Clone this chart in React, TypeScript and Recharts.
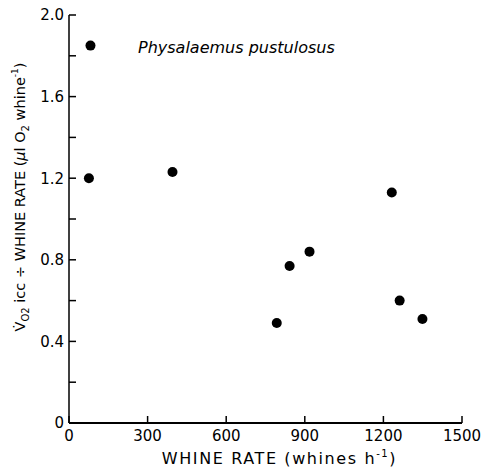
import { Label, Scatter, ScatterChart, XAxis, YAxis } from 'recharts'

// whine rate (whines/h) and VO2 per whine
const whineRate = [82, 76, 395, 842, 918, 793, 1232, 1262, 1349]
const vo2PerWhine = [1.85, 1.2, 1.23, 0.77, 0.84, 0.49, 1.13, 0.6, 0.51]

const xTicks = [0, 300, 600, 900, 1200, 1500]
const yTicks = [0, 0.2, 0.4, 0.6, 0.8, 1.0, 1.2, 1.4, 1.6, 1.8, 2.0]

const species = 'Physalaemus pustulosus'

const data = whineRate.map((x, i) => ({ x, y: vo2PerWhine[i] }))

const FONT = '"DejaVu Sans", sans-serif'
const Y_MARGIN = 5
const X_MARGIN = 6

function YTick(props: any) {
  const { x, y, payload } = props
  const axisX = x + Y_MARGIN
  const v = payload.value as number
  const major = Math.round(v * 10) % 4 === 0
  return (
    <g>
      <line x1={axisX} x2={axisX + 7} y1={y} y2={y} stroke="#000" strokeWidth={1.5} />
      {major && (
        <text x={x} y={y} dy="0.36em" textAnchor="end" fontSize={15} fontFamily={FONT} fill="#000">
          {v === 0 ? '0' : v.toFixed(1)}
        </text>
      )}
    </g>
  )
}

function XTick(props: any) {
  const { x, y, payload } = props
  const axisY = y - X_MARGIN
  return (
    <g>
      <line x1={x} x2={x} y1={axisY} y2={axisY - 7} stroke="#000" strokeWidth={1.5} />
      <text x={x} y={y} dy="0.8em" textAnchor="middle" fontSize={15} fontFamily={FONT} fill="#000">
        {payload.value}
      </text>
    </g>
  )
}

function XTitle({ viewBox }: any) {
  const cx = viewBox.x + viewBox.width / 2 + 14
  return (
    <text x={cx} y={464} textAnchor="middle" fontSize={16} fontFamily={FONT} fill="#000" letterSpacing={1.6}>
      WHINE RATE (whines h
      <tspan fontSize={10} dy={-7}>-1</tspan>
      <tspan dy={7}>)</tspan>
    </text>
  )
}

function YTitle({ viewBox }: any) {
  const cy = viewBox.y + viewBox.height / 2 - 22
  return (
    <text
      transform={`translate(20,${cy}) rotate(-90)`}
      textAnchor="middle"
      dy="0.36em"
      fontSize={14.5}
      fontFamily={FONT}
      fill="#000"
    >
      {'V\u0307'}
      <tspan fontSize={10} dy={4}>O2</tspan>
      <tspan dy={-4}> icc ÷ WHINE RATE (</tspan>
      <tspan fontStyle="italic">μ</tspan>
      <tspan>l O</tspan>
      <tspan fontSize={10} dy={4}>2</tspan>
      <tspan dy={-4}> whine</tspan>
      <tspan fontSize={9} dy={-7}>-1</tspan>
      <tspan dy={7}>)</tspan>
    </text>
  )
}

const Dot = (props: any) => <circle cx={props.cx} cy={props.cy} r={5} fill="#000" />

export default function App() {
  return (
    <div style={{ position: 'absolute', left: 0, top: 0, width: 486, height: 468, background: '#fff' }}>
      <ScatterChart width={486} height={468} margin={{ top: 15, right: 24, bottom: 0, left: 0 }}>
        <XAxis
          type="number"
          dataKey="x"
          domain={[0, 1500]}
          ticks={xTicks}
          interval={0}
          height={45}
          tickSize={0}
          tickMargin={X_MARGIN}
          tickLine={false}
          tick={<XTick />}
          axisLine={{ stroke: '#000', strokeWidth: 2 }}
        >
          <Label content={<XTitle />} />
        </XAxis>
        <YAxis
          type="number"
          dataKey="y"
          domain={[0, 2]}
          ticks={yTicks}
          interval={0}
          width={69}
          tickSize={0}
          tickMargin={Y_MARGIN}
          tickLine={false}
          tick={<YTick />}
          axisLine={{ stroke: '#000', strokeWidth: 1.5 }}
        >
          <Label content={<YTitle />} />
        </YAxis>
        <Scatter data={data} fill="#000" shape={<Dot />} isAnimationActive={false} />
      </ScatterChart>
      <div
        style={{
          position: 'absolute',
          left: 138,
          top: 38,
          fontFamily: FONT,
          fontStyle: 'italic',
          fontSize: 16,
          lineHeight: '20px',
          whiteSpace: 'nowrap',
          color: '#000',
        }}
      >
        {species}
      </div>
    </div>
  )
}
